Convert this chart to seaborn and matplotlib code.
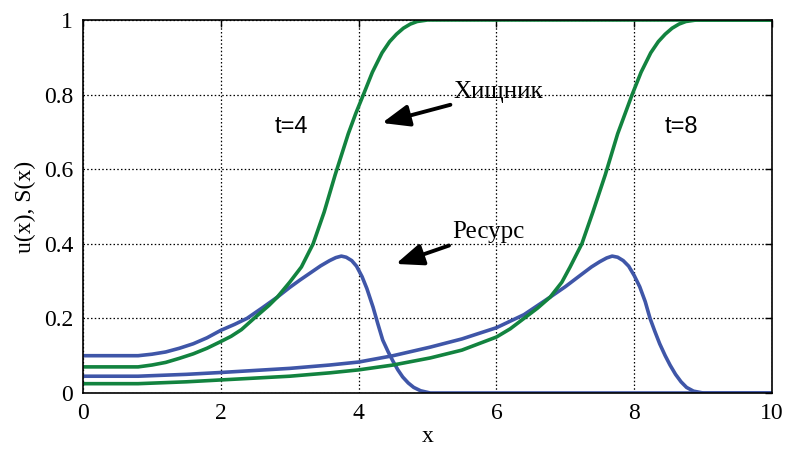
import matplotlib
matplotlib.use("Agg")
import matplotlib.pyplot as plt
import seaborn as sns
import pandas as pd

# ---- data ----
x_S4 = [0, 0.8, 1.0, 1.2, 1.4, 1.6, 1.8, 2.0, 2.15, 2.3, 2.5, 2.7, 2.82, 3.0, 3.17, 3.34, 3.5, 3.66, 3.85, 3.96, 4.07, 4.2, 4.34, 4.45, 4.55, 4.65, 4.75, 4.85, 5.0, 10]
y_S4 = [0.07, 0.07, 0.075, 0.082, 0.093, 0.105, 0.12, 0.138, 0.152, 0.17, 0.203, 0.235, 0.257, 0.297, 0.338, 0.40, 0.485, 0.585, 0.695, 0.75, 0.80, 0.86, 0.912, 0.942, 0.962, 0.978, 0.989, 0.996, 1.0, 1.0]

x_u4 = [0, 0.8, 1.0, 1.2, 1.4, 1.6, 1.8, 2.0, 2.2, 2.38, 2.6, 2.82, 3.0, 3.15, 3.3, 3.45, 3.58, 3.67, 3.75, 3.82, 3.9, 3.97, 4.05, 4.12, 4.21, 4.28, 4.35, 4.43, 4.5, 4.57, 4.64, 4.72, 4.8, 4.9, 5.04, 10]
y_u4 = [0.1, 0.1, 0.104, 0.11, 0.12, 0.132, 0.148, 0.168, 0.184, 0.2, 0.228, 0.257, 0.283, 0.303, 0.322, 0.341, 0.355, 0.363, 0.367, 0.364, 0.355, 0.34, 0.312, 0.28, 0.23, 0.185, 0.142, 0.11, 0.085, 0.062, 0.043, 0.027, 0.015, 0.006, 0.0, 0.0]

x_S8 = [0, 0.8, 1.5, 2.0, 3.0, 3.58, 4.0, 4.5, 5.04, 5.5, 6.0, 6.2, 6.4, 6.6, 6.78, 6.95, 7.07, 7.24, 7.4, 7.58, 7.76, 7.87, 7.97, 8.1, 8.24, 8.35, 8.45, 8.55, 8.65, 8.75, 8.9, 10]
y_S8 = [0.025, 0.025, 0.03, 0.035, 0.045, 0.054, 0.062, 0.075, 0.094, 0.115, 0.15, 0.172, 0.2, 0.228, 0.257, 0.297, 0.338, 0.40, 0.485, 0.585, 0.695, 0.75, 0.80, 0.86, 0.912, 0.942, 0.962, 0.978, 0.989, 0.996, 1.0, 1.0]

x_u8 = [0, 0.8, 1.5, 2.0, 3.0, 3.58, 4.0, 4.5, 5.04, 5.5, 6.0, 6.4, 6.78, 7.0, 7.2, 7.38, 7.5, 7.6, 7.68, 7.76, 7.84, 7.92, 8.0, 8.08, 8.16, 8.23, 8.3, 8.37, 8.45, 8.52, 8.6, 8.68, 8.76, 8.86, 9.0, 10]
y_u8 = [0.045, 0.045, 0.05, 0.055, 0.066, 0.075, 0.083, 0.1, 0.123, 0.145, 0.175, 0.21, 0.257, 0.285, 0.313, 0.338, 0.352, 0.362, 0.367, 0.364, 0.355, 0.34, 0.315, 0.285, 0.245, 0.2, 0.165, 0.132, 0.1, 0.075, 0.05, 0.03, 0.015, 0.005, 0.0, 0.0]

xticks = [0, 2, 4, 6, 8, 10]
yticks = [0, 0.2, 0.4, 0.6, 0.8, 1.0]
ytick_labels = ["0", "0.2", "0.4", "0.6", "0.8", "1"]

GREEN = "#12833F"
BLUE = "#3F56A8"

sns.set_theme(style="white")
plt.rcParams["font.family"] = ["Liberation Serif", "DejaVu Serif"]
plt.rcParams["text.color"] = "black"
plt.rcParams["axes.labelcolor"] = "black"
plt.rcParams["xtick.color"] = "black"
plt.rcParams["ytick.color"] = "black"

fig = plt.figure(figsize=(7.87, 4.53), dpi=100)
ax = fig.add_axes([83 / 787, 60 / 453, 689 / 787, 373 / 453])

lw = 2.6
for xs, ys, c in [(x_u4, y_u4, BLUE), (x_u8, y_u8, BLUE), (x_S4, y_S4, GREEN), (x_S8, y_S8, GREEN)]:
    df = pd.DataFrame({"x": xs, "y": ys})
    sns.lineplot(data=df, x="x", y="y", ax=ax, color=c, linewidth=lw, estimator=None, sort=False)

ax.set_xlim(0, 10)
ax.set_ylim(0, 1)
ax.set_xticks(xticks)
ax.set_xticklabels([str(t) for t in xticks])
ax.set_yticks(yticks)
ax.set_yticklabels(ytick_labels)
ax.grid(True, color="black", linestyle=(0, (1.2, 1.8)), linewidth=0.9)
ax.tick_params(direction="in", length=5, width=1, top=True, right=True, labelsize=17,
               colors="black", labelcolor="black")
ax.tick_params(axis="x", pad=7)
ax.tick_params(axis="y", pad=7)
for s in ax.spines.values():
    s.set_visible(True)
    s.set_color("black")
    s.set_linewidth(1.2)

ax.set_xlabel("x", fontsize=17, labelpad=2, color="black")
ax.set_ylabel("u(x), S(x)", fontsize=17, labelpad=6, color="black")

ax.text(3.03, 0.713, "t=4", fontsize=17, family=["Liberation Sans", "DejaVu Sans"],
        ha="center", va="center", color="black")
ax.text(8.69, 0.713, "t=8", fontsize=17, family=["Liberation Sans", "DejaVu Sans"],
        ha="center", va="center", color="black")

arrow = dict(arrowstyle="-|>,head_length=0.75,head_width=0.3", color="black", lw=2.8,
             mutation_scale=22, shrinkA=0, shrinkB=0)
ax.annotate("Хищник", xy=(4.34, 0.724), xytext=(5.38, 0.807), fontsize=18, color="black",
            ha="left", va="center", arrowprops=arrow)
ax.annotate("Ресурс", xy=(4.54, 0.346), xytext=(5.36, 0.432), fontsize=18, color="black",
            ha="left", va="center", arrowprops=arrow)

fig.savefig("out.png", dpi=100)
